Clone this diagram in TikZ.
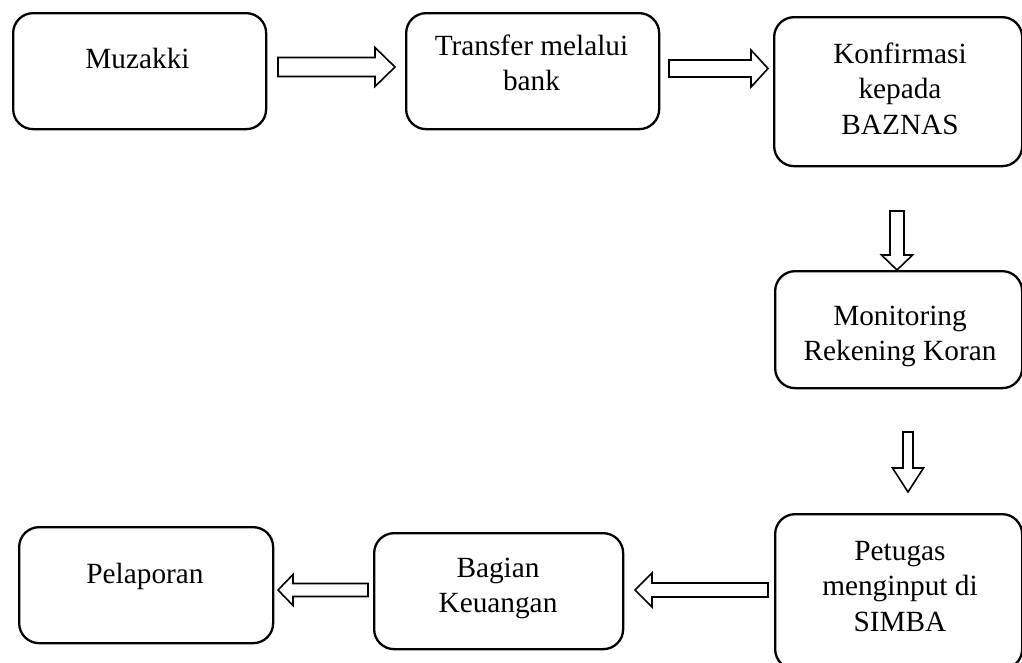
\documentclass[tikz,border=0pt]{standalone}
\usepackage{fontspec}
\setmainfont{Liberation Serif}

\tikzset{
  stepbox/.style={draw, line width=2.3pt, rounded corners=20pt, inner sep=0pt, anchor=north west},
  lbl/.style={anchor=base, inner sep=0pt, font=\fontsize{29.3}{35.5}\selectfont},
  blk/.style={draw, line width=1.6pt, fill=white, line join=miter},
}

% centred lines of text whose baseline is the first line
\newcommand\txtlines[1]{\begin{tabular}[t]{@{}c@{}}#1\end{tabular}}

% hollow block arrow: #1 start, #2 direction, #3 length,
% #4 half shaft width, #5 half head width, #6 head length
\newcommand\flowarrow[6]{%
  \draw[blk, shift={#1}, rotate=#2]
    (0,#4) -- ({#3-#6},#4) -- ({#3-#6},#5) -- (#3,0)
    -- ({#3-#6},-#5) -- ({#3-#6},-#4) -- (0,-#4) -- cycle;}

\begin{document}
\begin{tikzpicture}[x=1pt, y=1pt]
\useasboundingbox (0,0) rectangle (1022,-662);

% process boxes
\node[stepbox, minimum width=253pt, minimum height=116pt] (b1) at (12,-12) {};
\node[stepbox, minimum width=253pt, minimum height=116pt] (b2) at (405,-12) {};
\node[stepbox, minimum width=248pt, minimum height=149pt] (b3) at (773,-16) {};
\node[stepbox, minimum width=247pt, minimum height=117pt] (b4) at (774,-270) {};
\node[stepbox, minimum width=247pt, minimum height=155pt] (b5) at (774,-513) {};
\node[stepbox, minimum width=249pt, minimum height=116pt] (b6) at (373,-532) {};
\node[stepbox, minimum width=254pt, minimum height=116pt] (b7) at (18,-526) {};

% box texts
\node[lbl] (t1) at (137.5,-68) {\txtlines{Muzakki}};
\node[lbl] (t2) at (531.5,-55) {\txtlines{Transfer melalui\\bank}};
\node[lbl] (t3) at (900,-63) {\txtlines{Konfirmasi\\kepada\\BAZNAS}};
\node[lbl] (t4) at (900,-325) {\txtlines{Monitoring\\Rekening Koran}};
\node[lbl] (t5) at (900,-560) {\txtlines{Petugas\\menginput di\\SIMBA}};
\node[lbl] (t6) at (498,-577) {\txtlines{Bagian\\Keuangan}};
\node[lbl] (t7) at (145,-583) {\txtlines{Pelaporan}};

% block arrows between the steps
\flowarrow{(278,-67)}{0}{117}{9.5}{19.5}{20}
\flowarrow{(669,-68.5)}{0}{99}{8.5}{18.5}{17}
\flowarrow{(897,-211)}{-90}{59}{7}{15.5}{15}
\flowarrow{(908,-432)}{-90}{60}{5}{15.5}{24}
\flowarrow{(768,-590)}{180}{133}{7}{17}{17}
\flowarrow{(368,-590)}{180}{90}{6.5}{15.5}{15}
\end{tikzpicture}
\end{document}
